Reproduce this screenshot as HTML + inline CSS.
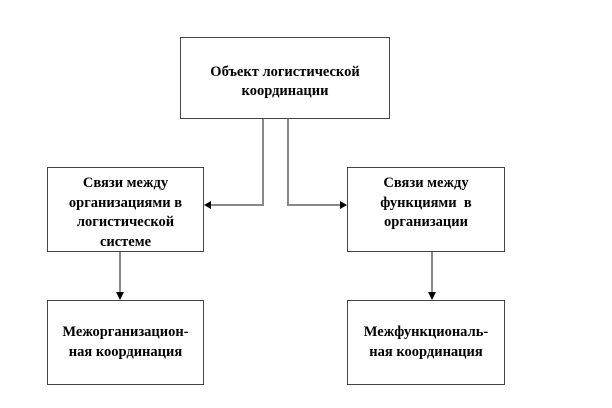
<!DOCTYPE html>
<html><head><meta charset="utf-8"><style>
body{margin:0;width:612px;height:408px;background:#fff;position:relative;overflow:hidden}
.b{position:absolute;box-sizing:border-box;border:1px solid #444;display:flex;align-items:center;justify-content:center;text-align:center;font-family:"Liberation Serif","Noto Serif CJK SC",serif;font-weight:bold;font-size:14.5px;line-height:19.5px;color:#000;white-space:nowrap}
svg{position:absolute;left:0;top:0}
</style></head><body>
<svg width="612" height="408">
<g stroke="#888" stroke-width="2" fill="none">
<polyline points="263,119 263,205 210,205"/>
<polyline points="288,119 288,205 340,205"/>
<line x1="120" y1="252" x2="120" y2="293"/>
<line x1="432" y1="252" x2="432" y2="293"/>
</g>
<g fill="#000">
<polygon points="204,205 211,201 211,209"/>
<polygon points="347,205 340,201 340,209"/>
<polygon points="120,300 116,292 124,292"/>
<polygon points="432,300 428,292 436,292"/>
</g>
</svg>
<div class="b" style="left:180px;top:37px;width:210px;height:82px;padding-top:8px">Объект логистической<br>координации</div>
<div class="b" style="left:47px;top:167px;width:157px;height:85px;align-items:flex-start;padding-top:6px">Связи между<br>организациями в<br>логистической<br>системе</div>
<div class="b" style="left:347px;top:167px;width:158px;height:85px;align-items:flex-start;padding-top:6px">Связи между<br>функциями&nbsp; в<br>организации</div>
<div class="b" style="left:47px;top:300px;width:157px;height:85px;">Межорганизацион-<br>ная координация</div>
<div class="b" style="left:347px;top:300px;width:158px;height:85px;">Межфункциональ-<br>ная координация</div>
</body></html>
